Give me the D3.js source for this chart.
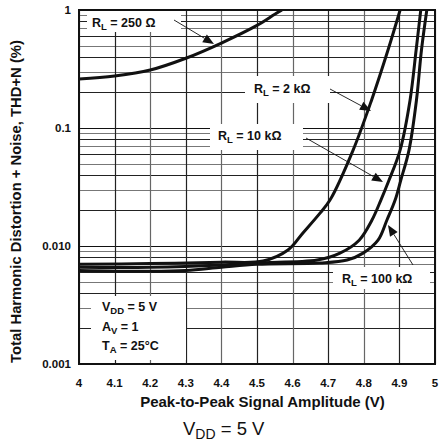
<!DOCTYPE html>
<html><head><meta charset="utf-8">
<script src="https://cdn.jsdelivr.net/npm/d3@7"></script>
<style>body{margin:0;background:#fff}svg{display:block}text{font-family:Arial,"Liberation Sans",Helvetica,sans-serif}</style>
</head><body>
<svg id="c" width="441" height="444"></svg>
<script>
// ---- data ----
const xTickValues = [4, 4.1, 4.2, 4.3, 4.4, 4.5, 4.6, 4.7, 4.8, 4.9, 5];
const xTickLabels = ["4", "4.1", "4.2", "4.3", "4.4", "4.5", "4.6", "4.7", "4.8", "4.9", "5"];
const yTickValues = [0.001, 0.01, 0.1, 1];
const yTickLabels = ["0.001", "0.010", "0.1", "1"];

const rl250_x = [4.0, 4.1, 4.2, 4.3, 4.4, 4.5, 4.55, 4.57];
const rl250_y = [0.26, 0.276, 0.31, 0.39, 0.525, 0.74, 0.92, 1.0];

const rl2k_x = [4.0, 4.2, 4.4, 4.517, 4.587, 4.629, 4.677, 4.705, 4.770, 4.822, 4.868, 4.902];
const rl2k_y = [0.0070, 0.0071, 0.0073, 0.00746, 0.00925, 0.0129, 0.019, 0.0245, 0.065, 0.173, 0.458, 1.0];

const rl10k_x = [4.0, 4.2, 4.4, 4.5, 4.669, 4.733, 4.787, 4.823, 4.848, 4.871, 4.902, 4.930, 4.947, 4.960];
const rl10k_y = [0.0066, 0.0066, 0.0069, 0.0072, 0.0076, 0.0087, 0.0112, 0.0166, 0.0245, 0.0362, 0.065, 0.173, 0.458, 1.0];

const rl100k_x = [4.0, 4.2, 4.3, 4.4, 4.5, 4.677, 4.753, 4.798, 4.840, 4.865, 4.888, 4.904, 4.927, 4.948, 4.962, 4.977];
const rl100k_y = [0.0062, 0.0061, 0.0062, 0.0066, 0.0070, 0.00718, 0.0076, 0.0087, 0.0112, 0.0166, 0.0245, 0.0362, 0.065, 0.173, 0.458, 1.0];

const xTitle = "Peak-to-Peak Signal Amplitude  (V)";
const yTitle = "Total Harmonic Distortion + Noise, THD+N (%)";

// ---- layout ----
const L = 79, R = 435, T = 10, B = 364;
const svg = d3.select("#c");
const x = d3.scaleLinear().domain([4, 5]).range([L, R]);
const y = d3.scaleLog().domain([0.001, 1]).range([B, T]);

// grid
const g = svg.append("g");
const minor = [];
[0.001, 0.01, 0.1].forEach(d => { for (let k = 2; k <= 9; k++) minor.push(d * k); });
g.selectAll(".hm").data(minor).join("line")
  .attr("x1", L).attr("x2", R).attr("y1", d => Math.round(y(d)) + 0.5).attr("y2", d => Math.round(y(d)) + 0.5)
  .attr("stroke", (d, i) => i % 2 ? "#777" : "#222").attr("stroke-width", 1);
g.selectAll(".hM").data(yTickValues).join("line")
  .attr("x1", L).attr("x2", R).attr("y1", d => Math.round(y(d)) + 0.5).attr("y2", d => Math.round(y(d)) + 0.5)
  .attr("stroke", "#111").attr("stroke-width", 1.2);
g.selectAll(".v").data(xTickValues).join("line")
  .attr("y1", T).attr("y2", B).attr("x1", d => Math.round(x(d)) + 0.5).attr("x2", d => Math.round(x(d)) + 0.5)
  .attr("stroke", (d, i) => i % 2 ? "#222" : "#666").attr("stroke-width", 1.2);

// white label boxes masking grid
const boxes = [[87, 11, 94, 21], [245, 76, 85, 27], [210, 124, 93, 26], [333, 267, 97, 22], [91, 296, 95, 64]];
svg.append("g").selectAll("rect").data(boxes).join("rect")
  .attr("x", d => d[0]).attr("y", d => d[1]).attr("width", d => d[2]).attr("height", d => d[3]).attr("fill", "#fff");

// curves
const line = d3.line().x(d => x(d[0])).y(d => y(d[1])).curve(d3.curveCatmullRom.alpha(0.5));
const series = [[rl250_x, rl250_y], [rl2k_x, rl2k_y], [rl10k_x, rl10k_y], [rl100k_x, rl100k_y]];
svg.append("defs").append("clipPath").attr("id", "clip").append("rect").attr("x", L).attr("y", T).attr("width", R - L).attr("height", B - T);
svg.append("g").attr("clip-path", "url(#clip)").selectAll("path").data(series).join("path")
  .attr("d", s => line(s[0].map((v, i) => [v, s[1][i]])))
  .attr("fill", "none").attr("stroke", "#111").attr("stroke-width", 3).attr("stroke-linejoin", "round");

// frame
svg.append("rect").attr("x", L).attr("y", T).attr("width", R - L).attr("height", B - T)
  .attr("fill", "none").attr("stroke", "#111").attr("stroke-width", 2);

// labels
function rlLabel(px, py, val) {
  const t = svg.append("text").attr("x", px).attr("y", py).attr("font-size", 12.5).attr("font-weight", "bold").attr("fill", "#111");
  t.append("tspan").text("R");
  t.append("tspan").text("L").attr("font-size", 9.5).attr("dy", 3);
  t.append("tspan").text(" = " + val).attr("dy", -3);
}
rlLabel(92, 27, "250 Ω");
rlLabel(254, 93, "2 kΩ");
rlLabel(218, 140, "10 kΩ");
rlLabel(342, 283, "100 kΩ");

// arrows
function arrow(x1, y1, x2, y2) {
  const a = Math.atan2(y2 - y1, x2 - x1), len = 11, w = 4.5;
  const bx = x2 - len * Math.cos(a), by = y2 - len * Math.sin(a);
  svg.append("line").attr("x1", x1).attr("y1", y1).attr("x2", bx).attr("y2", by).attr("stroke", "#111").attr("stroke-width", 0.9);
  const px = -Math.sin(a) * w, py = Math.cos(a) * w;
  svg.append("path").attr("d", `M${x2},${y2}L${bx + px},${by + py}L${bx - px},${by - py}Z`).attr("fill", "#111");
}
arrow(174, 20, 214, 44);
arrow(330, 89, 371, 111);
arrow(306, 138, 383, 182);
arrow(413, 265, 388, 225);

// conditions
function cond(py, main, sub, rest) {
  const t = svg.append("text").attr("x", 102).attr("y", py).attr("font-size", 12.5).attr("font-weight", "bold").attr("fill", "#111");
  t.append("tspan").text(main);
  t.append("tspan").text(sub).attr("font-size", 9.5).attr("dy", 3);
  t.append("tspan").text(rest).attr("dy", -3);
}
cond(311, "V", "DD", " = 5 V");
cond(331, "A", "V", " = 1");
cond(350, "T", "A", " = 25°C");

// ticks
svg.append("g").selectAll("text").data(xTickValues).join("text")
  .attr("x", d => x(d)).attr("y", 387).attr("text-anchor", "middle")
  .attr("font-size", 11.5).attr("font-weight", "bold").attr("fill", "#111")
  .text((d, i) => xTickLabels[i]);
svg.append("g").selectAll("text").data(yTickValues).join("text")
  .attr("x", 71).attr("y", d => y(d) + 4).attr("text-anchor", "end")
  .attr("font-size", 11.5).attr("font-weight", "bold").attr("fill", "#111")
  .text((d, i) => yTickLabels[i]);

// titles (fit to the measured span in the reference)
function fitText(sel, target) {
  const w = sel.node().getComputedTextLength();
  const fs = parseFloat(sel.attr("font-size"));
  sel.attr("font-size", (fs * target / w).toFixed(2));
}
const xt = svg.append("text").attr("x", 262.5).attr("y", 406.5).attr("text-anchor", "middle")
  .attr("font-size", 12).attr("font-weight", "bold").attr("fill", "#111").text(xTitle);
fitText(xt, 245);
const yt = svg.append("text").attr("transform", "translate(21,201.5) rotate(-90)").attr("text-anchor", "middle")
  .attr("font-size", 12).attr("font-weight", "bold").attr("fill", "#111").text(yTitle);
fitText(yt, 323);

// caption
const cap = svg.append("text").attr("x", 183).attr("y", 435).attr("font-size", 18.5).attr("fill", "#111");
cap.append("tspan").text("V");
cap.append("tspan").text("DD").attr("font-size", 14).attr("dy", 4);
cap.append("tspan").text(" = 5 V").attr("dy", -4);
</script>
</body></html>
